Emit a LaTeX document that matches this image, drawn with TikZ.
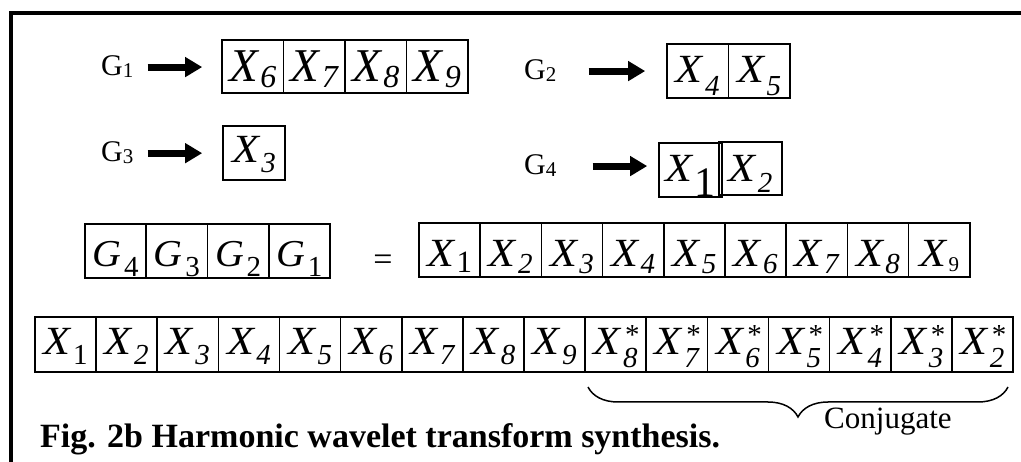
\documentclass[tikz,border=0pt]{standalone}
\usepackage{fontspec}
\usepackage{graphicx}
\setmainfont{Liberation Serif}
\usetikzlibrary{arrows.meta,decorations.pathreplacing,calc}
% #1 horizontal scale, #2 size, #3 letter, #4 lowering, #5 subscript
\newcommand\cx[5]{\scalebox{#1}[1]{\fontsize{#2}{#2}\selectfont\itshape #3}\hspace{2.5pt}\raisebox{-#4}{#5}}
\newcommand\subI[2]{\fontsize{#1}{#1}\selectfont\itshape #2}
\newcommand\subU[2]{\fontsize{#1}{#1}\selectfont\upshape #2}
\newcommand\subS[2]{\fontsize{#1}{#1}\selectfont\itshape\makebox[0pt][l]{\hspace{2pt}\raisebox{23pt}{\upshape *}}#2}
\begin{document}
\begin{tikzpicture}[x=1pt,y=-1pt,
  cell/.style={draw, line width=1.6pt, inner sep=0pt, anchor=center},
  rA/.style={minimum width=61.5pt, minimum height=53pt, text height=34pt, text depth=3pt},
  rB/.style={minimum width=61.5pt, minimum height=54pt, text height=34pt, text depth=10pt},
  rC/.style={minimum width=62pt, minimum height=54pt, text height=34pt, text depth=14pt},
  rDa/.style={minimum width=63pt, minimum height=54pt, text height=34pt, text depth=10pt},
  rDb/.style={minimum width=63pt, minimum height=53pt, text height=34pt, text depth=7pt},
  rG/.style={minimum width=61.25pt, minimum height=54pt, text height=34pt, text depth=2pt},
  rX/.style={minimum width=61.2pt, minimum height=54pt, text height=34pt, text depth=0pt},
  rZ/.style={minimum width=61.125pt, minimum height=55pt, text height=34pt, text depth=13pt},
  glab/.style={inner sep=0pt, anchor=base west, font=\fontsize{30}{30}\selectfont},
  bigarrow/.style={line width=7pt, -{Triangle[length=17pt,width=19pt]}},
  txt/.style={inner sep=0pt, anchor=base west}]
\useasboundingbox (0,0) rectangle (1021,462);
% frame
\draw[line width=4pt, line join=miter] (10.5,462) -- (10.5,13) -- (1021,13);

% G1 row
\node[glab] (g1) at (101,76) {G\raisebox{-2pt}{\fontsize{21}{21}\selectfont 1}};
\node[cell,rA] (a6) at (252.75,66.5) {\cx{1}{47}{X}{6pt}{\subI{32}{6}}};
\node[cell,rA] (a7) at (314.25,66.5) {\cx{1}{47}{X}{6pt}{\subI{32}{7}}};
\node[cell,rA] (a8) at (375.75,66.5) {\cx{1}{47}{X}{6pt}{\subI{32}{8}}};
\node[cell,rA] (a9) at (437.25,66.5) {\cx{1}{47}{X}{6pt}{\subI{32}{9}}};
\draw[bigarrow, shorten <=14pt, shorten >=19pt] (g1.east) -- (g1.east -| a6.west);

% G2 row
\node[glab] (g2) at (524,80) {G\raisebox{-2pt}{\fontsize{21}{21}\selectfont 2}};
\node[cell,rB] (c4) at (697.75,71) {\cx{1.1}{40}{X}{13pt}{\subI{29}{4}}};
\node[cell,rB] (c5) at (759.25,71) {\cx{1.1}{40}{X}{13pt}{\subI{29}{5}}};
\draw[bigarrow, shorten <=32pt, shorten >=21pt] (g2.east) -- (g2.east -| c4.west);

% G3 row
\node[glab] (g3) at (101,162) {G\raisebox{-2pt}{\fontsize{21}{21}\selectfont 3}};
\node[cell,rC] (d3) at (254,153) {\cx{1.1}{40}{X}{10pt}{\subI{29}{3}}};
\draw[bigarrow, shorten <=14pt, shorten >=20pt] (g3.east) -- (g3.east -| d3.west);

% G4 row
\node[glab] (g4) at (524,175) {G\raisebox{-2pt}{\fontsize{21}{21}\selectfont 4}};
\node[cell,rDa] (e1) at (690.5,170) {\cx{1.1}{40}{X}{15pt}{\subU{42}{1}}};
\node[cell,rDb] (e2) at (750.5,168.5) {\cx{1.1}{40}{X}{11pt}{\subI{29}{2}}};
\draw[bigarrow, shorten <=36pt, shorten >=11pt] (g4.east) -- (g4.east -| e1.west);

% G row
\node[cell,rG] (h4) at (115.625,251) {\cx{1.05}{38}{G}{10pt}{\subU{29}{4}}};
\node[cell,rG] (h3) at (176.875,251) {\cx{1.05}{38}{G}{10pt}{\subU{29}{3}}};
\node[cell,rG] (h2) at (238.125,251) {\cx{1.05}{38}{G}{10pt}{\subU{29}{2}}};
\node[cell,rG] (h1) at (299.375,251) {\cx{1.05}{38}{G}{10pt}{\subU{29}{1}}};
\node[inner sep=0pt, font=\fontsize{34}{34}\selectfont] (eq) at (383,263) {=};

% X row
\node[cell,rX] (x1) at (449.6,250) {\cx{1.1}{40}{X}{6pt}{\subU{31}{1}}};
\node[cell,rX] (x2) at (510.8,250) {\cx{1.1}{40}{X}{7pt}{\subI{29}{2}}};
\node[cell,rX] (x3) at (572,250) {\cx{1.1}{40}{X}{7pt}{\subI{29}{3}}};
\node[cell,rX] (x4) at (633.2,250) {\cx{1.1}{40}{X}{7pt}{\subI{29}{4}}};
\node[cell,rX] (x5) at (694.4,250) {\cx{1.1}{40}{X}{7pt}{\subI{29}{5}}};
\node[cell,rX] (x6) at (755.6,250) {\cx{1.1}{40}{X}{7pt}{\subI{29}{6}}};
\node[cell,rX] (x7) at (816.8,250) {\cx{1.1}{40}{X}{7pt}{\subI{29}{7}}};
\node[cell,rX] (x8) at (878,250) {\cx{1.1}{40}{X}{7pt}{\subI{29}{8}}};
\node[cell,rX] (x9) at (939.2,250) {\cx{1.1}{40}{X}{5pt}{\subU{21}{9}}};

% bottom row
\node[cell,rZ] (b1) at (65.5625,344.5) {\cx{1.1}{40}{X}{10pt}{\subU{29}{1}}};
\node[cell,rZ] (b2) at (126.6875,344.5) {\cx{1.1}{40}{X}{10pt}{\subI{29}{2}}};
\node[cell,rZ] (b3) at (187.8125,344.5) {\cx{1.1}{40}{X}{10pt}{\subI{29}{3}}};
\node[cell,rZ] (b4) at (248.9375,344.5) {\cx{1.1}{40}{X}{10pt}{\subI{29}{4}}};
\node[cell,rZ] (b5) at (310.0625,344.5) {\cx{1.1}{40}{X}{10pt}{\subI{29}{5}}};
\node[cell,rZ] (b6) at (371.1875,344.5) {\cx{1.1}{40}{X}{10pt}{\subI{29}{6}}};
\node[cell,rZ] (b7) at (432.3125,344.5) {\cx{1.1}{40}{X}{10pt}{\subI{29}{7}}};
\node[cell,rZ] (b8) at (493.4375,344.5) {\cx{1.1}{40}{X}{10pt}{\subI{29}{8}}};
\node[cell,rZ] (b9) at (554.5625,344.5) {\cx{1.1}{40}{X}{10pt}{\subI{29}{9}}};
\node[cell,rZ] (s8) at (615.6875,344.5) {\cx{1.1}{40}{X}{13pt}{\subS{29}{8}}};
\node[cell,rZ] (s7) at (676.8125,344.5) {\cx{1.1}{40}{X}{13pt}{\subS{29}{7}}};
\node[cell,rZ] (s6) at (737.9375,344.5) {\cx{1.1}{40}{X}{13pt}{\subS{29}{6}}};
\node[cell,rZ] (s5) at (799.0625,344.5) {\cx{1.1}{40}{X}{13pt}{\subS{29}{5}}};
\node[cell,rZ] (s4) at (860.1875,344.5) {\cx{1.1}{40}{X}{13pt}{\subS{29}{4}}};
\node[cell,rZ] (s3) at (921.3125,344.5) {\cx{1.1}{40}{X}{13pt}{\subS{29}{3}}};
\node[cell,rZ] (s2) at (982.4375,344.5) {\cx{1.1}{40}{X}{13pt}{\subS{29}{2}}};

% brace
\coordinate (brl) at (588,387);
\coordinate (brr) at (1008,387);
\draw[line width=1.5pt, decorate, decoration={brace, mirror, amplitude=30pt}] (brl) -- (brr);
\node[txt, font=\fontsize{31}{31}\selectfont] (conj) at (824,429) {Conjugate};

% caption
\node[txt, font=\fontsize{34}{34}\selectfont\bfseries] (cap) at (40,447) {Fig. 2b Harmonic wavelet transform synthesis.};
\end{tikzpicture}
\end{document}
